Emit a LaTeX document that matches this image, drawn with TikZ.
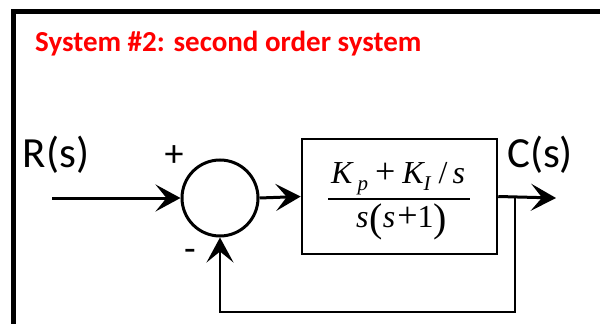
\documentclass[tikz,border=0pt]{standalone}
\usepackage{fontspec}
\setmainfont{Carlito}
\newfontfamily\mathfnt{Liberation Serif}
\usetikzlibrary{arrows.meta}
\tikzset{
  lbl/.style={font=\fontsize{43}{43}\selectfont, inner sep=0pt},
  sgn/.style={font=\fontsize{38}{38}\selectfont, inner sep=0pt},
  tip/.style={-{Stealth[length=25pt,width=27pt,inset=11pt]}},
  sig/.style={line width=3pt, tip},
  fb/.style={line width=2.4pt, tip},
  frac/.style={anchor=base west, inner sep=0pt, font=\mathfnt\fontsize{32}{32}\selectfont},
}
\newcommand{\sub}[1]{\raisebox{-7pt}{\fontsize{21}{21}\selectfont #1}}
\newcommand{\bigpar}[1]{\raisebox{-4pt}{\upshape\fontsize{40}{40}\selectfont #1}}
\newcommand{\pl}{{\upshape\fontsize{36}{36}\selectfont +}}
\begin{document}
\begin{tikzpicture}[x=1pt,y=-1pt]
\useasboundingbox (0,0) rectangle (600,324);
\clip (0,0) rectangle (600,324);
\fill[white] (0,0) rectangle (600,324);
\draw[line width=4.5pt] (620,11.5) -- (13.5,11.5) -- (13.5,340);
\node[anchor=base west, inner sep=0pt, text=red, font=\bfseries\fontsize{29}{29}\selectfont] (title) at (35,51) {System \#2: second order system};
\node[circle, draw, line width=3pt, minimum size=76pt, inner sep=0pt] (sum) at (220,198) {};
\node[draw, line width=2.5pt, minimum width=195pt, minimum height=115pt, inner sep=0pt] (plant) at (399.5,196.5) {};
\coordinate (in) at (52,198);
\coordinate (out) at (556,198);
\coordinate (tap) at (515,198);
\coordinate (bot) at (515,312);
\node[lbl] (R) at (56,155) {R(s)};
\node[lbl] (C) at (540,155) {C(s)};
\node[sgn] (plus) at (174,156) {+};
\node[sgn] (minus) at (190,255) {-};
\node[frac] (num) at (331,183)
  {\itshape K\kern5pt\sub{p}\kern7pt\pl\kern7pt K\kern0pt\sub{I}\kern8pt{\upshape /}\kern5pt s};
\node[frac] (den) at (356,227)
  {\itshape s\kern1pt\bigpar{(}\kern0pt s\kern2pt\pl\kern0pt{\upshape 1}\kern0pt\bigpar{)}};
\draw[line width=1.8pt] (328,199) -- (470,199);
\draw[sig] (in) -- (sum.west);
\draw[sig] (sum.east) -- (plant.west);
\draw[sig] (plant.east) -- (out);
\draw[fb] (tap) -- (bot) -| (sum.south);
\end{tikzpicture}
\end{document}
